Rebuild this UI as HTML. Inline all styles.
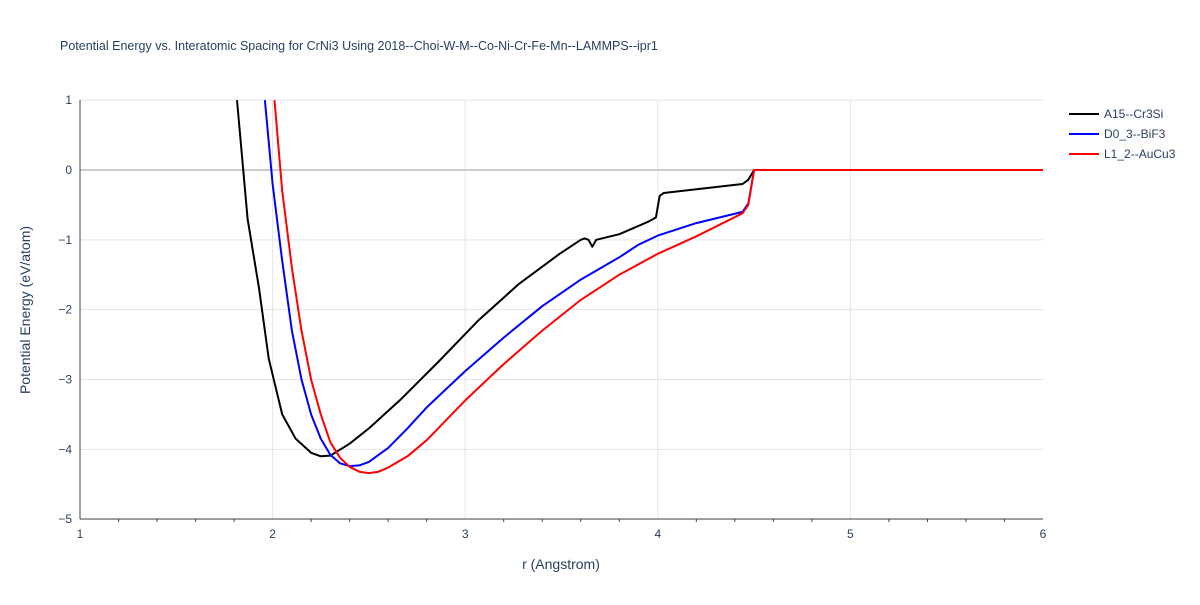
<!DOCTYPE html>
<html><head><meta charset="utf-8"><style>
body{margin:0;background:#fff;font-family:"Liberation Sans",sans-serif}
</style></head><body>
<svg id="chart" width="1200" height="600" xmlns="http://www.w3.org/2000/svg" font-family="Liberation Sans, sans-serif">
<rect width="1200" height="600" fill="#fff"/>
<text x="60" y="50" font-size="12.5" fill="#2a3f5f">Potential Energy vs. Interatomic Spacing for CrNi3 Using 2018--Choi-W-M--Co-Ni-Cr-Fe-Mn--LAMMPS--ipr1</text>
<defs><clipPath id="clip"><rect x="80" y="100" width="963" height="419"/></clipPath></defs>
<g id="grid"></g>
<g id="series" clip-path="url(#clip)"></g>
<g id="axes"></g>
<text x="561" y="569" font-size="14" fill="#2a3f5f" text-anchor="middle">r (Angstrom)</text>
<text transform="translate(30,310) rotate(-90)" font-size="14" fill="#2a3f5f" text-anchor="middle">Potential Energy (eV/atom)</text>
<g id="legend"></g>
</svg>
<script>
const xTicks=[1,2,3,4,5,6];
const yTicks=[1,0,-1,-2,-3,-4,-5];
const seriesNames=["A15--Cr3Si","D0_3--BiF3","L1_2--AuCu3"];
const seriesColors=["#000000","#0000ff","#ff0000"];
const blackR=[1.815,1.87,1.93,1.98,2.05,2.12,2.2,2.25,2.3,2.4,2.5,2.66,2.86,3.07,3.28,3.49,3.6,3.62,3.64,3.66,3.68,3.8,3.95,3.99,4.01,4.03,4.44,4.47,4.5,6];
const blackE=[1.0,-0.7,-1.7,-2.7,-3.5,-3.85,-4.05,-4.1,-4.09,-3.92,-3.7,-3.3,-2.75,-2.15,-1.63,-1.2,-1.0,-0.98,-1.0,-1.1,-1.0,-0.92,-0.74,-0.68,-0.37,-0.33,-0.2,-0.14,0,0];
const blueR=[1.96,2.0,2.05,2.1,2.15,2.2,2.25,2.3,2.35,2.4,2.45,2.5,2.6,2.7,2.8,3.0,3.2,3.4,3.6,3.8,3.9,4.0,4.2,4.44,4.47,4.5,6];
const blueE=[1.0,-0.2,-1.3,-2.3,-3.0,-3.5,-3.85,-4.08,-4.2,-4.24,-4.23,-4.18,-3.98,-3.7,-3.4,-2.88,-2.4,-1.95,-1.57,-1.25,-1.07,-0.94,-0.76,-0.6,-0.48,0,0];
const redR=[2.01,2.05,2.1,2.15,2.2,2.25,2.3,2.35,2.4,2.45,2.5,2.55,2.6,2.7,2.8,3.0,3.2,3.4,3.6,3.8,4.0,4.2,4.44,4.47,4.5,6];
const redE=[1.0,-0.3,-1.4,-2.3,-3.0,-3.5,-3.9,-4.12,-4.25,-4.32,-4.34,-4.32,-4.26,-4.1,-3.87,-3.3,-2.78,-2.3,-1.86,-1.5,-1.2,-0.95,-0.62,-0.5,0,0];
const X=v=>80+(v-1)*192.6;
const Y=v=>170-v*69.83;
const NS="http://www.w3.org/2000/svg";
function mk(tag,attrs,parent,text){const e=document.createElementNS(NS,tag);for(const k in attrs)e.setAttribute(k,attrs[k]);if(text!==undefined)e.textContent=text;parent.appendChild(e);return e;}
const grid=document.getElementById('grid'),axes=document.getElementById('axes'),ser=document.getElementById('series'),leg=document.getElementById('legend');
xTicks.forEach(t=>{
  if(t>1&&t<6){const l=mk('line',{x1:X(t),x2:X(t),y1:100,y2:519,stroke:'#e5e5e5'},grid);
  
  }
  const tx=mk('text',{x:X(t),y:538,'font-size':12,fill:'#2a3f5f','text-anchor':'middle'},axes,String(t));
  
  
});
for(let m=1.2;m<6;m+=0.2){if(Math.abs(m-Math.round(m))<0.01)continue;const l=mk('line',{x1:X(m),x2:X(m),y1:519,y2:522,stroke:'#444'},axes);
  
  }
yTicks.forEach(t=>{
  const l=mk('line',{x1:80,x2:1043,y1:Y(t),y2:Y(t),stroke:t===0?'#cccccc':'#e5e5e5','stroke-width':t===0?2:1},grid);
  
  
  const tx=mk('text',{x:72,y:Y(t)+4,'font-size':12,fill:'#2a3f5f','text-anchor':'end'},axes,t<0?'\u2212'+(-t):String(t));
  
  
});
const xa=mk('line',{x1:80,x2:1043,y1:519,y2:519,stroke:'#444'},axes);


const ya=mk('line',{x1:80,x2:80,y1:100,y2:519,stroke:'#444'},axes);


const data=[[blackR,blackE],[blueR,blueE],[redR,redE]];
data.forEach((d,i)=>{
  const pts=d[0].map((r,j)=>X(r).toFixed(1)+','+Y(d[1][j]).toFixed(1)).join(' ');
  const p=mk('polyline',{points:pts,fill:'none',stroke:seriesColors[i],'stroke-width':2,'stroke-linejoin':'round'},ser);
  
  
  const y=114+i*20;
  const g=mk('g',{},leg);
  
  
  mk('line',{x1:1069,x2:1099,y1:y,y2:y,stroke:seriesColors[i],'stroke-width':2},g);
  mk('text',{x:1104,y:y+4,'font-size':12,fill:'#2a3f5f'},g,seriesNames[i]);
});
</script>
</body></html>
